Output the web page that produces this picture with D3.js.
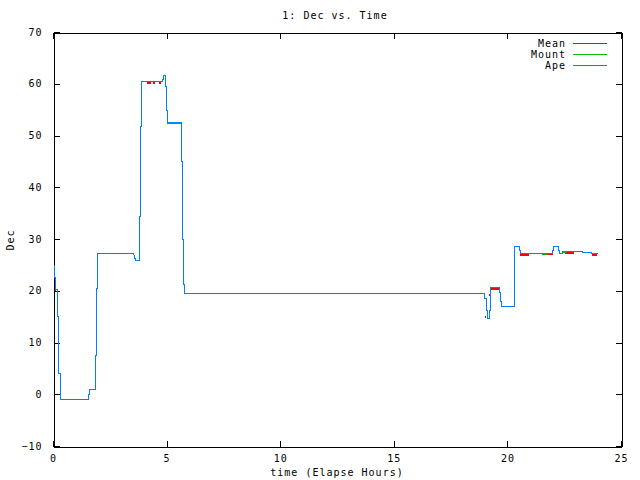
<!DOCTYPE html>
<html>
<head>
<meta charset="utf-8">
<script src="https://cdn.jsdelivr.net/npm/d3@7"></script>
<style>
  body { margin: 0; background: #fff; }
  text { font-family: "DejaVu Sans Mono", monospace; font-size: 10px; letter-spacing: 1px; fill: #000; }
</style>
</head>
<body>
<div id="chart"></div>
<script>
var margin = { top: 32, right: 19, bottom: 34, left: 53 };
var width = 640, height = 480;

var xTicks = [0, 5, 10, 15, 20, 25];
var yTicks = [-10, 0, 10, 20, 30, 40, 50, 60, 70];
var seriesNames = ["Mean", "Mount", "Ape"];
var seriesColors = ["#ff0000", "#00c000", "#0080ff"];

// [elapsed hours, dec]
var apePts = [
  [0, 25], [0.06, 25], [0.06, 22.6], [0.1, 22.6], [0.1, 20.4], [0.19, 20.4], [0.19, 15.1],
  [0.23, 15.1], [0.23, 4.2], [0.29, 4.2], [0.29, -1.0], [1.55, -1.0], [1.55, 0], [1.6, 0],
  [1.6, 1.1], [1.86, 1.1], [1.86, 7.5], [1.9, 7.5], [1.9, 20.6], [1.95, 20.6], [1.95, 27.2],
  [3.53, 27.2], [3.57, 26.7], [3.62, 25.9], [3.8, 25.9], [3.8, 34.5], [3.84, 34.5], [3.84, 51.8],
  [3.89, 51.8], [3.89, 60.6], [4.8, 60.6], [4.8, 61.0], [4.86, 61.0], [4.86, 61.7], [4.94, 61.7],
  [4.94, 59.6], [4.99, 59.6], [4.99, 54.9], [5.03, 54.9], [5.03, 52.6], [5.63, 52.6], [5.63, 45.0],
  [5.69, 45.0], [5.69, 30], [5.72, 30], [5.72, 21.3], [5.76, 21.3], [5.76, 19.65], [18.98, 19.65],
  [18.98, 18.6], [19.04, 18.6], [19.04, 16.2], [19.09, 16.2], [19.09, 14.8], [19.18, 14.8],
  [19.18, 16.2], [19.22, 16.2], [19.22, 19.2], [19.25, 19.2], [19.25, 20.7], [19.64, 20.7],
  [19.64, 19.8], [19.69, 19.8], [19.69, 18.0], [19.73, 18.0], [19.73, 17.1], [20.28, 17.1],
  [20.28, 22.8], [20.31, 22.8], [20.31, 28.6], [20.5, 28.6], [20.5, 27.95], [20.56, 27.95],
  [20.56, 27.2], [21.96, 27.2], [21.96, 27.95], [22.02, 27.95], [22.02, 28.6], [22.23, 28.6],
  [22.23, 27.95], [22.27, 27.95], [22.27, 27.3], [22.4, 27.3], [22.4, 27.6], [23.27, 27.6],
  [23.27, 27.4], [23.68, 27.4], [23.68, 27.2], [23.93, 27.2]
];

var mountPts = [
  [0, 25], [0.06, 25], [0.06, 22.6], [0.1, 22.6], [0.1, 20.4], [0.19, 20.4], [0.19, 15.1],
  [0.23, 15.1], [0.23, 4.2], [0.29, 4.2], [0.29, -1.0], [1.55, -1.0], [1.55, 0], [1.6, 0],
  [1.6, 1.1], [1.86, 1.1], [1.86, 7.5], [1.9, 7.5], [1.9, 20.6], [1.95, 20.6], [1.95, 27.2],
  [3.53, 27.2], [3.57, 26.7], [3.62, 25.9], [3.8, 25.9], [3.8, 34.5], [3.84, 34.5], [3.84, 51.8],
  [3.89, 51.8], [3.89, 60.6], [4.8, 60.6], [4.8, 61.0], [4.86, 61.0], [4.86, 61.7], [4.94, 61.7],
  [4.94, 59.6], [4.99, 59.6], [4.99, 54.9], [5.03, 54.9], [5.03, 52.4], [5.63, 52.4], [5.63, 45.0],
  [5.69, 45.0], [5.69, 30], [5.72, 30], [5.72, 21.3], [5.76, 21.3], [5.76, 19.65], [18.98, 19.65],
  [18.98, 18.6], [19.04, 18.6], [19.04, 16.2], [19.09, 16.2], [19.09, 14.8], [19.18, 14.8],
  [19.18, 16.2], [19.22, 16.2], [19.22, 19.2], [19.25, 19.2], [19.25, 20.7], [19.64, 20.7],
  [19.64, 19.8], [19.69, 19.8], [19.69, 18.0], [19.73, 18.0], [19.73, 17.1], [20.28, 17.1],
  [20.28, 22.8], [20.31, 22.8], [20.31, 28.6], [20.5, 28.6], [20.5, 27.95], [20.56, 27.95],
  [20.56, 27.2], [21.52, 27.2], [21.52, 27.1], [21.7, 27.1], [21.7, 27.2], [21.96, 27.2],
  [21.96, 27.95], [22.02, 27.95], [22.02, 28.6], [22.23, 28.6], [22.23, 27.95], [22.27, 27.95],
  [22.27, 27.3], [22.4, 27.3], [22.4, 27.45], [22.54, 27.45], [22.54, 27.6], [23.27, 27.6],
  [23.27, 27.4], [23.68, 27.4], [23.68, 27.2], [23.93, 27.2]
];

// null breaks the line (missing samples)
var meanPts = [
  [0.1, 20.1], [0.14, 20.1], null,
  [0.19, 15.1], [0.22, 15.1], null,
  [4.12, 60.2], [4.3, 60.2], null,
  [4.39, 60.2], [4.49, 60.2], null,
  [4.65, 60.2], [4.76, 60.2], null,
  [19.02, 15.0], [19.07, 15.0], null,
  [19.19, 19.1], [19.23, 19.1], null,
  [19.29, 20.4], [19.64, 20.4], null,
  [20.56, 27.0], [20.94, 27.0], null,
  [21.7, 27.05], [21.99, 27.05], null,
  [22.54, 27.3], [22.93, 27.3], null,
  [23.71, 27.0], [23.93, 27.0]
];

var x = d3.scaleLinear().domain([0, 25]).range([margin.left, width - margin.right]);
var y = d3.scaleLinear().domain([-10, 70]).range([height - margin.bottom, margin.top]);

var svg = d3.select("#chart").append("svg")
    .attr("width", width)
    .attr("height", height);

// 1px lines snapped to pixel centres
var line = d3.line()
    .defined(function(d) { return d !== null; })
    .x(function(d) { return Math.round(x(d[0])) + 0.5; })
    .y(function(d) { return Math.round(y(d[1])) + 0.5; });

// 2px lines snapped to pixel edges
var thickLine = d3.line()
    .defined(function(d) { return d !== null; })
    .x(function(d) { return Math.round(x(d[0])); })
    .y(function(d) { return Math.round(y(d[1])); });

// axes, ticks pointing inward on all four sides
var axes = svg.append("g").attr("shape-rendering", "crispEdges");

axes.append("g")
    .attr("transform", "translate(0," + (y(-10) + 0.5) + ")")
    .call(d3.axisBottom(x).tickValues(xTicks).tickSizeInner(-6).tickSizeOuter(0).tickPadding(8));
axes.append("g")
    .attr("transform", "translate(0," + (y(70) + 0.5) + ")")
    .call(d3.axisTop(x).tickValues(xTicks).tickSizeInner(-6).tickSizeOuter(0).tickFormat(""));
axes.append("g")
    .attr("transform", "translate(" + (x(0) + 0.5) + ",0)")
    .call(d3.axisLeft(y).tickValues(yTicks).tickSizeInner(-6).tickSizeOuter(0).tickPadding(11));
axes.append("g")
    .attr("transform", "translate(" + (x(25) + 0.5) + ",0)")
    .call(d3.axisRight(y).tickValues(yTicks).tickSizeInner(-6).tickSizeOuter(0).tickFormat(""));

axes.selectAll(".domain").attr("stroke", "#000");
axes.selectAll(".tick line").attr("stroke", "#000");
axes.selectAll(".tick text")
    .style("font-family", "'DejaVu Sans Mono', monospace")
    .style("font-size", "10px")
    .style("letter-spacing", "1px");

// series, drawn in key order so Ape ends on top
var plot = svg.append("g").attr("shape-rendering", "crispEdges");
plot.append("path")
    .attr("d", thickLine(meanPts))
    .attr("fill", "none")
    .attr("stroke", seriesColors[0])
    .attr("stroke-width", 2);
plot.append("path")
    .attr("d", line(mountPts))
    .attr("fill", "none")
    .attr("stroke", seriesColors[1])
    .attr("stroke-width", 1);
plot.append("path")
    .attr("d", line(apePts))
    .attr("fill", "none")
    .attr("stroke", seriesColors[2])
    .attr("stroke-width", 1);

// legend
var legend = svg.append("g").selectAll("g")
    .data(seriesNames)
    .enter().append("g")
    .attr("transform", function(d, i) { return "translate(0," + (43 + i * 11) + ")"; });
legend.append("text")
    .attr("x", 566)
    .attr("y", 4)
    .attr("text-anchor", "end")
    .text(function(d) { return d; });
legend.append("line")
    .attr("x1", 573).attr("x2", 607)
    .attr("y1", 0.5).attr("y2", 0.5)
    .attr("shape-rendering", "crispEdges")
    .attr("stroke", function(d, i) { return seriesColors[i]; })
    .attr("stroke-width", 1);

// titles
svg.append("text")
    .attr("x", 335).attr("y", 19)
    .attr("text-anchor", "middle")
    .text("1: Dec vs. Time");
svg.append("text")
    .attr("x", 337).attr("y", 476)
    .attr("text-anchor", "middle")
    .text("time (Elapse Hours)");
svg.append("text")
    .attr("transform", "translate(14,240)rotate(-90)")
    .attr("text-anchor", "middle")
    .text("Dec");
</script>
</body>
</html>
